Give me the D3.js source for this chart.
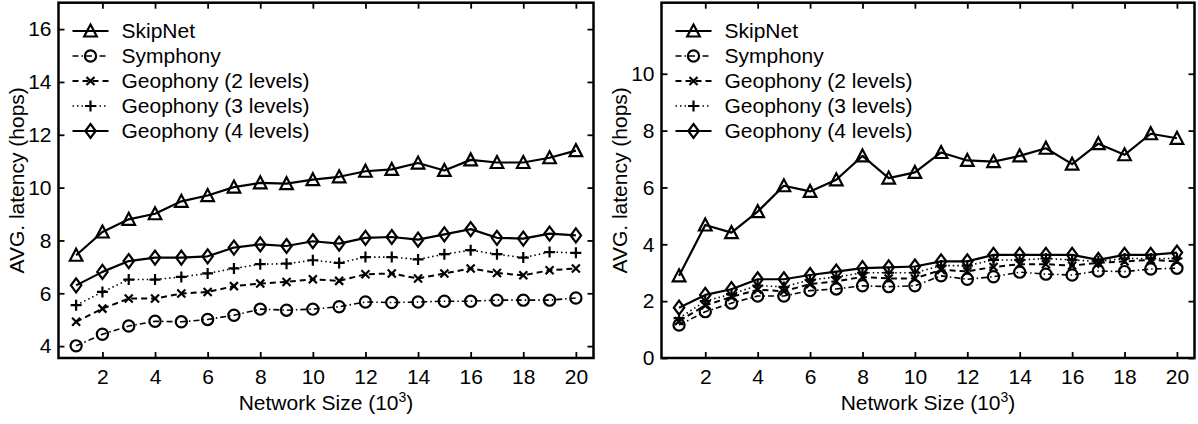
<!DOCTYPE html>
<html>
<head>
<meta charset="utf-8">
<script src="https://d3js.org/d3.v7.min.js"></script>
<style>
  body { margin: 0; background: #fff; }
  text { font-family: "Liberation Sans", Arial, Helvetica, sans-serif; fill: #000; }
</style>
</head>
<body>
<svg id="chart" width="1198" height="424"></svg>
<script>
// ---- data ----
var networkSize = [1, 2, 3, 4, 5, 6, 7, 8, 9, 10, 11, 12, 13, 14, 15, 16, 17, 18, 19, 20];
var seriesNames = ["SkipNet", "Symphony", "Geophony (2 levels)", "Geophony (3 levels)", "Geophony (4 levels)"];

// left panel
var leftSkipNet  = [7.44, 8.32, 8.80, 9.01, 9.48, 9.70, 10.02, 10.18, 10.15, 10.30, 10.41, 10.62, 10.69, 10.93, 10.65, 11.05, 10.95, 10.95, 11.13, 11.40];
var leftSymphony = [4.01, 4.45, 4.76, 4.94, 4.92, 5.01, 5.17, 5.40, 5.36, 5.40, 5.49, 5.67, 5.65, 5.67, 5.70, 5.70, 5.74, 5.74, 5.74, 5.82];
var leftGeo2     = [4.92, 5.42, 5.80, 5.80, 5.99, 6.05, 6.27, 6.37, 6.43, 6.53, 6.47, 6.72, 6.75, 6.56, 6.75, 6.94, 6.77, 6.68, 6.87, 6.94];
var leftGeo3     = [5.55, 6.05, 6.52, 6.52, 6.62, 6.75, 6.94, 7.10, 7.12, 7.25, 7.15, 7.37, 7.37, 7.28, 7.48, 7.63, 7.48, 7.35, 7.56, 7.53];
var leftGeo4     = [6.30, 6.81, 7.22, 7.35, 7.35, 7.40, 7.73, 7.85, 7.79, 7.97, 7.88, 8.10, 8.13, 8.03, 8.23, 8.43, 8.10, 8.07, 8.26, 8.19];

// right panel
var rightSkipNet  = [2.89, 4.68, 4.41, 5.15, 6.06, 5.86, 6.27, 7.11, 6.33, 6.53, 7.23, 6.95, 6.91, 7.11, 7.38, 6.82, 7.54, 7.15, 7.89, 7.73];
var rightSymphony = [1.16, 1.63, 1.93, 2.18, 2.18, 2.37, 2.43, 2.54, 2.51, 2.54, 2.89, 2.77, 2.86, 3.02, 2.95, 2.92, 3.06, 3.04, 3.13, 3.16];
var rightGeo2     = [1.30, 1.85, 2.15, 2.40, 2.35, 2.60, 2.70, 2.85, 2.80, 2.80, 3.10, 3.05, 3.20, 3.30, 3.30, 3.25, 3.35, 3.40, 3.45, 3.40];
var rightGeo3     = [1.40, 2.00, 2.25, 2.55, 2.50, 2.75, 2.85, 3.00, 3.00, 3.00, 3.25, 3.25, 3.45, 3.45, 3.50, 3.45, 3.40, 3.50, 3.50, 3.50];
var rightGeo4     = [1.77, 2.22, 2.42, 2.77, 2.77, 2.92, 3.04, 3.16, 3.19, 3.22, 3.40, 3.40, 3.63, 3.63, 3.63, 3.63, 3.45, 3.63, 3.63, 3.71];

var xTicks = [2, 4, 6, 8, 10, 12, 14, 16, 18, 20];
var leftYTicks = [4, 6, 8, 10, 12, 14, 16];
var rightYTicks = [0, 2, 4, 6, 8, 10];

// line / marker style per series
var styles = [
  { marker: "triangle", dash: null,          width: 2.2 },
  { marker: "circle",   dash: "6,3,1.5,3",   width: 1.6 },
  { marker: "x",        dash: "6,4",         width: 2 },
  { marker: "plus",     dash: "1.5,3",       width: 1.6 },
  { marker: "diamond",  dash: null,          width: 2.2 }
];

var fontSize = 21;
var svg = d3.select("#chart");

var panels = [
  { left: 58.5, top: 2.7, width: 535, height: 355.3, yDomain: [3.55, 17], yTicks: leftYTicks,
    series: [leftSkipNet, leftSymphony, leftGeo2, leftGeo3, leftGeo4] },
  { left: 661.5, top: 2.7, width: 533, height: 355.3, yDomain: [0, 12.5], yTicks: rightYTicks,
    series: [rightSkipNet, rightSymphony, rightGeo2, rightGeo3, rightGeo4] }
];

function drawMarker(g, type, x, y) {
  var m;
  if (type === "triangle") {
    m = g.append("path").attr("d", "M0,-6.5L6.3,5.5L-6.3,5.5Z");
  } else if (type === "circle") {
    m = g.append("circle").attr("r", 5.6);
  } else if (type === "diamond") {
    m = g.append("path").attr("d", "M0,-7L5.2,0L0,7L-5.2,0Z");
  } else if (type === "plus") {
    m = g.append("path").attr("d", "M-5.5,0H5.5M0,-5.5V5.5");
  } else {
    m = g.append("path").attr("d", "M-4,-4L4,4M-4,4L4,-4");
  }
  m.attr("transform", "translate(" + x + "," + y + ")")
    .attr("fill", "none")
    .attr("stroke", "#000")
    .attr("stroke-width", 2.2);
}

panels.forEach(function(p) {
  var g = svg.append("g").attr("transform", "translate(" + p.left + "," + p.top + ")");

  var x = d3.scaleLinear().domain([0.33, 20.67]).range([0, p.width]);
  var y = d3.scaleLinear().domain(p.yDomain).range([p.height, 0]);

  // inward ticks on all four sides (box style)
  var tl = 6;
  g.append("g").attr("transform", "translate(0," + p.height + ")")
    .call(d3.axisBottom(x).tickValues(xTicks).tickSizeInner(-tl).tickSizeOuter(0).tickPadding(11))
    .call(function(a) { a.select(".domain").remove(); a.selectAll("text").attr("font-size", fontSize); });
  g.append("g")
    .call(d3.axisTop(x).tickValues(xTicks).tickSizeInner(-tl).tickSizeOuter(0).tickFormat(""))
    .call(function(a) { a.select(".domain").remove(); });
  g.append("g")
    .call(d3.axisLeft(y).tickValues(p.yTicks).tickSizeInner(-tl).tickSizeOuter(0).tickPadding(7))
    .call(function(a) { a.select(".domain").remove(); a.selectAll("text").attr("font-size", fontSize); });
  g.append("g").attr("transform", "translate(" + p.width + ",0)")
    .call(d3.axisRight(y).tickValues(p.yTicks).tickSizeInner(-tl).tickSizeOuter(0).tickFormat(""))
    .call(function(a) { a.select(".domain").remove(); });
  g.selectAll(".tick line").attr("stroke", "#000").attr("stroke-width", 1.8);
  g.selectAll(".tick text").attr("font-family", "Liberation Sans, Arial, sans-serif").attr("fill", "#000");

  // data lines
  var line = d3.line()
    .x(function(d, i) { return x(networkSize[i]); })
    .y(function(d) { return y(d); });

  p.series.forEach(function(vals, si) {
    var st = styles[si];
    g.append("path")
      .datum(vals)
      .attr("d", line)
      .attr("fill", "none")
      .attr("stroke", "#000")
      .attr("stroke-width", st.width)
      .attr("stroke-linejoin", "round")
      .attr("stroke-dasharray", st.dash);
    vals.forEach(function(v, i) {
      drawMarker(g, st.marker, x(networkSize[i]), y(v));
    });
  });

  // frame
  g.append("rect")
    .attr("width", p.width).attr("height", p.height)
    .attr("fill", "none").attr("stroke", "#000").attr("stroke-width", 2.5);

  // legend (no box)
  seriesNames.forEach(function(name, si) {
    var st = styles[si];
    var ry = 28.3 + 25 * si;
    g.append("line")
      .attr("x1", 14).attr("x2", 50).attr("y1", ry).attr("y2", ry)
      .attr("stroke", "#000").attr("stroke-width", st.width)
      .attr("stroke-dasharray", st.dash);
    drawMarker(g, st.marker, 32, ry);
    g.append("text").attr("x", 63).attr("y", ry + 7.5)
      .attr("font-size", fontSize).text(name);
  });

  // axis titles
  g.append("text")
    .attr("transform", "translate(" + (-42) + "," + (p.height / 2) + ") rotate(-90)")
    .attr("text-anchor", "middle").attr("dy", "0.35em")
    .attr("font-size", fontSize)
    .text("AVG. latency (hops)");

  var xt = g.append("text")
    .attr("x", p.width / 2).attr("y", p.height + 52)
    .attr("text-anchor", "middle").attr("font-size", fontSize);
  xt.append("tspan").text("Network Size (10");
  xt.append("tspan").attr("font-size", 14).attr("dy", -8).text("3");
  xt.append("tspan").attr("dy", 8).text(")");
});
</script>
</body>
</html>
